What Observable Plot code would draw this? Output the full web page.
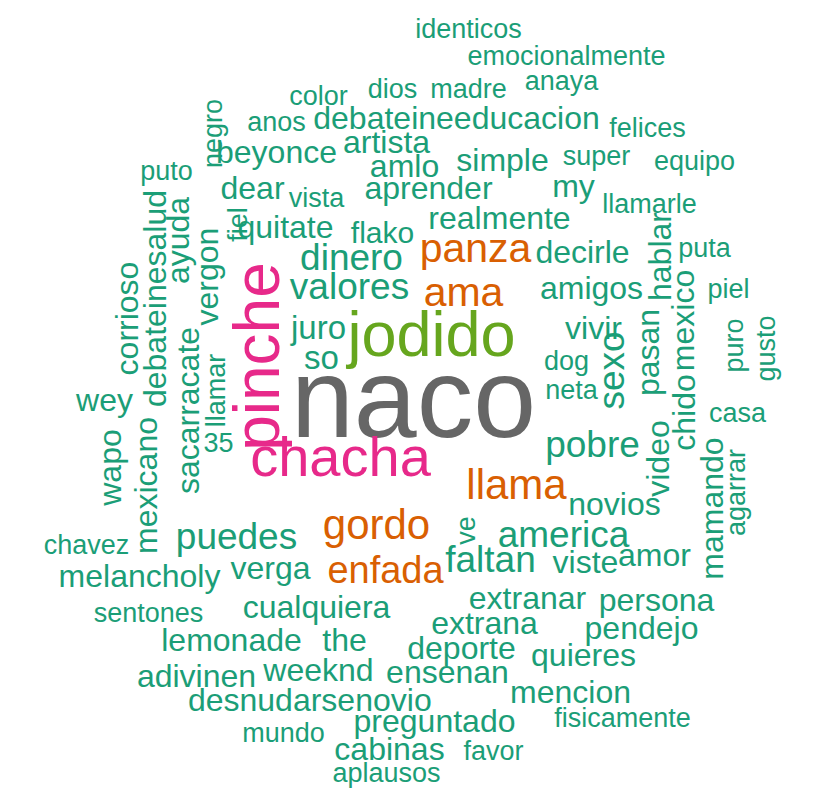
<!DOCTYPE html>
<html>
<head>
<meta charset="utf-8">
<script src="https://cdn.jsdelivr.net/npm/d3@7"></script>
<script src="https://cdn.jsdelivr.net/npm/@observablehq/plot@0.6"></script>
<style>
  body { margin: 0; background: #fff; }
</style>
</head>
<body>
<div id="cloud"></div>
<script>
// Nube de palabras: palabra, centro (x, y), tamaño, giro y grupo de color
const words = ["identicos","emocionalmente","anaya","madre","dios","color","anos","debateineeducacion","felices","artista",
  "beyonce","simple","super","equipo","puto","amlo","dear","vista","aprender","my",
  "llamarle","quitate","flako","realmente","panza","decirle","dinero","puta","ama","valores",
  "amigos","piel","jodido","juro","vivir","so","dog","neta","naco","wey",
  "casa","pobre","35","chacha","llama","novios","gordo","america","puedes","chavez",
  "enfada","faltan","viste","amor","melancholy","verga","extranar","persona","cualquiera","sentones",
  "extrana","lemonade","the","deporte","pendejo","quieres","weeknd","ensenan","adivinen","mencion",
  "desnudarse","novio","preguntado","fisicamente","mundo","cabinas","favor","aplausos",
  "negro","fiel","ayuda","vergon","corrioso","debateinesalud","pinche","sacarracate","llamar","mexicano",
  "wapo","hablar","mexico","pasan","sexo","puro","gusto","chido","video","mamando","agarrar","ve"];
const xs = [468,566,561,468,392,318,276,456,647,386, 276,502,596,694,166,404,252,316,428,573,
  649,285,382,499,475,582,351,704,463,349, 591,728,431,318,593,321,566,571,413,104,
  737,592,218,340,516,614,376,563,236,86, 385,490,585,654,139,270,527,656,316,148,
  484,231,344,461,641,583,318,447,196,570, 271,393,434,622,283,389,493,386,
  213,238,178,207,127,155,258,188,216,146, 110,660,683,648,612,734,766,684,658,712,736,466];
const ys = [29,56,81,89,89,96,122,118,128,142, 152,160,156,161,171,166,188,198,188,186,
  204,227,233,218,248,252,258,248,292,287, 288,289,335,328,328,358,361,390,400,400,
  413,445,443,458,485,504,525,535,537,545, 570,560,562,555,576,568,598,600,607,613,
  623,640,640,648,628,655,670,672,676,692, 700,700,721,718,733,749,751,773,
  133,224,240,276,318,298,356,410,390,485, 467,256,320,352,370,345,348,412,458,508,492,530];
const sizes = [27,27,27,27,27,27,27,32,27,32, 32,32,27,27,27,32,32,27,32,32,
  27,32,30,32,41,32,37,27,41,37, 32,27,63,33,32,33,27,27,113,32,
  27,37,27,56,42,32,42,37,37,27, 38,37,32,32,32,32,32,32,32,27,
  32,32,32,32,32,32,32,32,32,32, 32,32,32,27,27,32,27,27,
  27,27,32,32,32,32,64,32,27,32, 32,32,32,32,37,27,27,32,32,32,27,27];
const rotations = words.map((w, i) => i >= 78 ? -90 : 0);
const groups = words.map(w =>
  w === "naco" ? "gray" :
  w === "jodido" ? "lime" :
  (w === "pinche" || w === "chacha") ? "pink" :
  ["panza","ama","llama","gordo","enfada"].includes(w) ? "orange" : "green");
const palette = {green: "#1b9e77", orange: "#d95f02", pink: "#e7298a", lime: "#66a61e", gray: "#666666"};

const data = words.map((w, i) => ({word: w, x: xs[i], y: ys[i], size: sizes[i], rotate: rotations[i], fill: palette[groups[i]]}));

const chart = Plot.plot({
  width: 829,
  height: 810,
  margin: 0,
  x: {domain: [0, 829], axis: null},
  y: {domain: [0, 810], reverse: true, axis: null},
  color: {type: "identity"},
  style: {fontFamily: "'Liberation Sans', Arial, sans-serif", background: "#fff"},
  marks: [
    Plot.text(data, {
      x: "x",
      y: "y",
      text: "word",
      fontSize: "size",
      rotate: "rotate",
      fill: "fill",
      textAnchor: "middle",
      lineAnchor: "middle"
    })
  ]
});

document.getElementById('cloud').appendChild(chart);
</script>
</body>
</html>
